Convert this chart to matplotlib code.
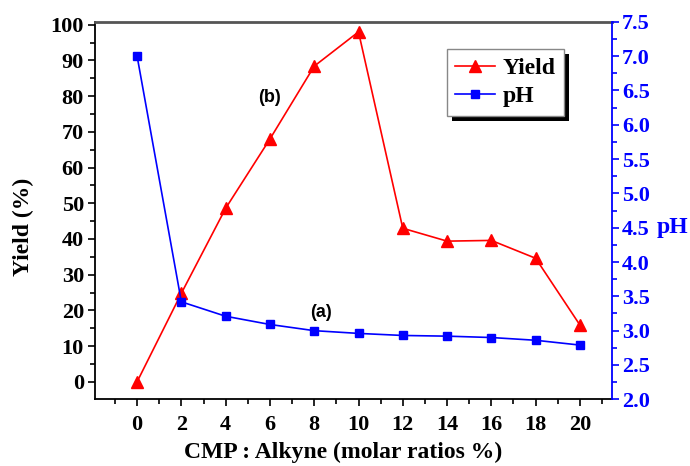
import matplotlib
matplotlib.use("Agg")
import matplotlib.pyplot as plt
from matplotlib.ticker import MultipleLocator, FixedLocator
from matplotlib.patches import Rectangle

ratios = [0, 2, 4, 6, 8, 10, 12, 14, 16, 18, 20]
yield_pct = [0, 24.8, 48.6, 68.0, 88.4, 98.0, 43.0, 39.4, 39.6, 34.6, 15.9]
ph_vals = [7.0, 3.42, 3.21, 3.09, 3.0, 2.96, 2.93, 2.92, 2.9, 2.86, 2.79]

serif = ["Liberation Serif", "DejaVu Serif"]
sans = ["Liberation Sans", "DejaVu Sans"]
plt.rcParams["font.family"] = serif
plt.rcParams["font.weight"] = "bold"

fig = plt.figure(figsize=(6.9, 4.66), dpi=100)
ax = fig.add_axes([0.1377, 0.1431, 0.887 - 0.1377, 0.9534 - 0.1431])
ax2 = ax.twinx()

red = "#ff0000"
blue = "#0000ff"

l1, = ax.plot(ratios, yield_pct, color=red, lw=1.2, marker="^", ms=8.5,
              label="Yield", zorder=3)
l2, = ax2.plot(ratios, ph_vals, color=blue, lw=1.2, marker="s", ms=5.5,
               label="pH", zorder=3)

ax.set_xlim(-1.9, 21.45)
ax.set_ylim(-4.9, 100.85)
ax2.set_ylim(2.0, 7.5)

ax.xaxis.set_major_locator(FixedLocator(ratios))
ax.xaxis.set_minor_locator(FixedLocator(list(range(-1, 22, 2))))
ax.yaxis.set_major_locator(MultipleLocator(10))
ax.yaxis.set_minor_locator(MultipleLocator(5))
ax2.yaxis.set_major_locator(MultipleLocator(0.5))
ax2.yaxis.set_minor_locator(MultipleLocator(0.25))
ax2.yaxis.set_major_formatter(plt.FormatStrFormatter("%.1f"))

ax.tick_params(axis="both", which="major", direction="out", length=5,
               width=1.2, labelsize=16, pad=3)
ax.tick_params(axis="both", which="minor", direction="out", length=3.5,
               width=1.2)
ax.tick_params(axis="x", which="major", pad=6)
ax2.tick_params(axis="y", which="major", direction="out", length=5,
                width=1.2, labelsize=16, colors=blue, pad=2)
ax2.tick_params(axis="y", which="minor", direction="out", length=3.5,
                width=1.2, colors=blue)
for lab in ax.get_xticklabels() + ax.get_yticklabels() + ax2.get_yticklabels():
    lab.set_fontweight("bold")

ax.spines["top"].set_color("#555555")
ax.spines["top"].set_linewidth(2)
ax.spines["left"].set_linewidth(1.3)
ax.spines["bottom"].set_linewidth(1.3)
ax.spines["right"].set_visible(False)
ax2.spines["left"].set_visible(False)
ax2.spines["top"].set_visible(False)
ax2.spines["bottom"].set_visible(False)
ax2.spines["right"].set_color(blue)
ax2.spines["right"].set_linewidth(1.3)

ax.set_xlabel("CMP : Alkyne (molar ratios %)", fontsize=17, fontweight="bold",
              va="center", ha="center")
ax.xaxis.set_label_coords(0.48, -0.14)
ax.set_ylabel("Yield (%)", fontsize=17, fontweight="bold",
              va="center", ha="center")
ax.yaxis.set_label_coords(-0.139, 0.456)
ax2.set_ylabel("pH", fontsize=17, fontweight="bold", color=blue,
               rotation=0, va="center", ha="center")
ax2.yaxis.set_label_coords(1.116, 0.4545)

ax.text(6.0, 79.5, "(b)", fontsize=13, fontweight="bold", family=sans,
        ha="center", va="center")
ax2.text(8.3, 3.26, "(a)", fontsize=13, fontweight="bold", family=sans,
         ha="center", va="center")

leg = ax2.legend(handles=[l1, l2], loc="upper left",
                 bbox_to_anchor=(447 / 690, 1 - 49 / 466),
                 bbox_transform=fig.transFigure,
                 prop={"family": serif, "weight": "bold", "size": 17},
                 frameon=True, fancybox=False, numpoints=1,
                 handlelength=1.7, handletextpad=0.3, borderpad=0.35,
                 labelspacing=0.3, borderaxespad=0)
leg.get_frame().set_edgecolor("#888888")
leg.get_frame().set_linewidth(1.0)
leg.get_frame().set_alpha(1)
leg.set_zorder(10)

fig.canvas.draw()
bb = leg.get_window_extent()
shadow = Rectangle((bb.x0 + 5, bb.y0 - 5), bb.width, bb.height,
                   transform=None, facecolor="black", edgecolor="none",
                   zorder=9, clip_on=False)
ax2.add_artist(shadow)

fig.savefig("out.png", dpi=100)
